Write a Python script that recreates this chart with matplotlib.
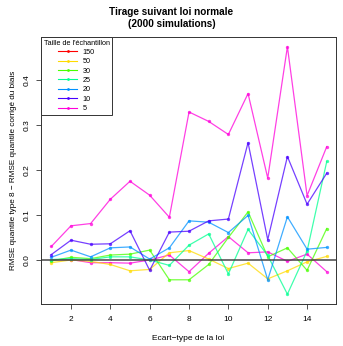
import matplotlib
matplotlib.use("Agg")
import matplotlib.pyplot as plt
from matplotlib.lines import Line2D

plt.rcParams['font.family'] = ['Liberation Sans', 'DejaVu Sans']

# Ecart-type de la loi
ecart_type = list(range(1, 16))

tailles = ["150", "50", "30", "25", "20", "10", "5"]
couleurs_legende = ["#FF0000", "#FFDB00", "#49FF00", "#00FF92", "#0092FF", "#4900FF", "#FF00DB"]
# la courbe 150 apparait en magenta sur le graphique
couleurs_lignes = ["#FF00DB", "#FFDB00", "#49FF00", "#00FF92", "#0092FF", "#4900FF", "#FF00DB"]

n150 = [0.000, 0.001, -0.006, -0.006, -0.007, 0.000, 0.011, -0.026, 0.015, 0.052, 0.016, 0.018, -0.003, 0.013, -0.026]
n50 = [-0.006, 0.000, -0.003, -0.010, -0.024, -0.021, 0.016, 0.021, 0.002, -0.019, -0.007, -0.042, -0.024, -0.004, 0.008]
n30 = [-0.002, 0.006, 0.003, 0.011, 0.013, 0.022, -0.044, -0.044, -0.010, 0.050, 0.107, 0.007, 0.027, -0.023, 0.070]
n25 = [0.001, 0.003, 0.001, 0.007, 0.007, 0.000, -0.012, 0.033, 0.058, -0.031, 0.068, 0.010, -0.076, 0.020, 0.219]
n20 = [0.006, 0.022, 0.007, 0.027, 0.029, 0.002, 0.027, 0.087, 0.084, 0.061, 0.099, -0.044, 0.096, 0.024, 0.028]
n10 = [0.012, 0.044, 0.035, 0.036, 0.065, -0.023, 0.062, 0.064, 0.087, 0.091, 0.261, 0.045, 0.230, 0.124, 0.193]
n5 = [0.030, 0.076, 0.081, 0.135, 0.175, 0.144, 0.095, 0.329, 0.308, 0.279, 0.370, 0.182, 0.474, 0.143, 0.252]

series = [n150, n50, n30, n25, n20, n10, n5]

fig = plt.figure(figsize=(3.43, 3.46), dpi=100)
ax = fig.add_axes([0.1195, 0.1214, 0.8601, 0.7716])

for valeurs, coul in zip(series, couleurs_lignes):
    ax.plot(ecart_type, valeurs, '-', color=coul, lw=0.9, alpha=0.75,
            marker='o', markersize=2.4, markeredgewidth=0)

ax.axhline(0, color='#444444', lw=1.2, alpha=0.9)

ax.set_xlim(0.476, 15.47)
ax.set_ylim(-0.0978, 0.4956)
ax.set_xticks([2, 4, 6, 8, 10, 12, 14])
ax.set_yticks([0.0, 0.1, 0.2, 0.3, 0.4])
ax.set_yticklabels(["0.0", "0.1", "0.2", "0.3", "0.4"], rotation=90, va='center')
ax.tick_params(labelsize=6, length=3.5, width=0.6, color='#333333', pad=5)
ax.tick_params(axis='y', pad=4)

for sp in ax.spines.values():
    sp.set_color('#333333')
    sp.set_linewidth(0.7)

ax.set_xlabel("Ecart\u2212type de la loi", fontsize=6, labelpad=9)
ax.set_ylabel("RMSE quantile type 8 \u2212 RMSE quantile corrigé du biais", fontsize=5.9, labelpad=5)
fig.suptitle("Tirage suivant loi normale\n(2000 simulations)", fontsize=7.2, fontweight='bold',
             y=0.98, linespacing=1.3)

handles = [Line2D([0], [0], color=c, lw=0.8, marker='o', markersize=2, markeredgewidth=0)
           for c in couleurs_legende]
leg = ax.legend(handles, tailles, title="Taille de l'échantillon", loc='upper left',
                fontsize=5.2, title_fontsize=5.2, fancybox=False, framealpha=1,
                edgecolor='#333333', borderaxespad=0, handlelength=2.6,
                labelspacing=0.32, borderpad=0.35, handletextpad=0.8)
leg.get_frame().set_linewidth(0.7)

fig.savefig("out.png", dpi=100)
